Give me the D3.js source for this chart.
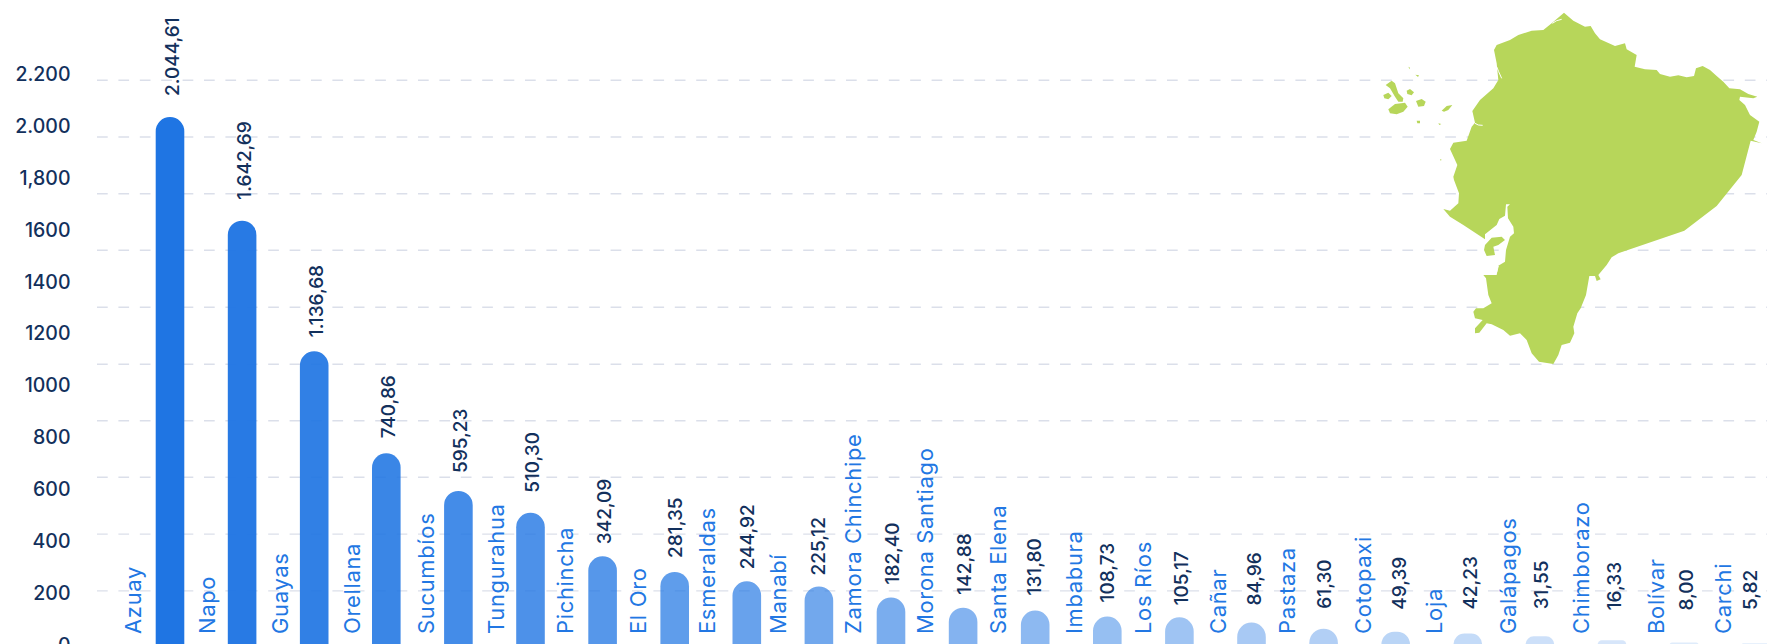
<!DOCTYPE html>
<html><head><meta charset="utf-8">
<script src="https://cdn.jsdelivr.net/npm/d3@7"></script>
<style>html,body{margin:0;padding:0;background:#fff;overflow:hidden}svg{display:block}</style>
</head><body><svg id="c" width="1767" height="644"></svg>
<script>
const categories=["Azuay","Napo","Guayas","Orellana","Sucumbíos","Tungurahua","Pichincha","El Oro","Esmeraldas","Manabí","Zamora Chinchipe","Morona Santiago","Santa Elena","Imbabura","Los Ríos","Cañar","Pastaza","Cotopaxi","Loja","Galápagos","Chimborazo","Bolívar","Carchi"];
const values=[2044.61,1642.69,1136.68,740.86,595.23,510.30,342.09,281.35,244.92,225.12,182.40,142.88,131.80,108.73,105.17,84.96,61.30,49.39,42.23,31.55,16.33,8.00,5.82];
const valueLabels=["2.044,61","1.642,69","1.136,68","740,86","595,23","510,30","342,09","281,35","244,92","225,12","182,40","142,88","131,80","108,73","105,17","84,96","61,30","49,39","42,23","31,55","16,33","8,00","5,82"];
const tickValues=[0,200,400,600,800,1000,1200,1400,1600,1800,2000,2200];
const tickLabels=["0","200","400","600","800","1000","1200","1400","1600","1,800","2.000","2.200"];
const gridValues=[208,428,648,867,1086,1307,1528,1747,1967,2187];
// hand-placed label offsets of the original layout
const valueGap=[21,21,14,15,18,20,12,14,12,11,13,13,15,14,12,17,20,22,24,27,30,32,33];
const catShift=[-2,0,1,1,3,0,-3,-2,-4.5,-5.5,-3.5,-3.5,-2,2,-1,1,-2,2,1,3.5,4,7,2];
const valShift=[0,0,0,0,0,-1,-1,-2,-2,-3,-1,-1,-3,-2,0,0,-2,1,0,-1,0,0,-8];
const mapMain=[[672,38],[700,62],[735,80],[752,78],[765,100],[780,118],[825,138],[855,130],[860,148],[890,165],[884,200],[915,208],[950,210],[960,222],[990,230],[1015,226],[1040,232],[1062,228],[1068,205],[1088,198],[1110,210],[1130,228],[1150,245],[1168,265],[1200,268],[1225,282],[1252,290],[1240,295],[1200,290],[1198,300],[1215,315],[1230,345],[1258,365],[1250,395],[1240,420],[1265,430],[1232,422],[1205,525],[1130,618],[1033,692],[835,760],[815,772],[800,795],[775,825],[782,838],[770,843],[765,828],[748,828],[738,885],[722,925],[712,940],[700,980],[703,1000],[690,1028],[665,1035],[655,1065],[640,1092],[597,1085],[575,1060],[560,1020],[540,1000],[510,1007],[490,990],[455,973],[440,970],[418,998],[405,1000],[405,985],[428,960],[405,955],[400,935],[408,925],[430,925],[455,910],[445,885],[438,835],[430,825],[470,825],[475,797],[495,785],[498,750],[510,710],[522,700],[520,680],[504,655],[502,620],[510,613],[498,613],[495,647],[478,657],[470,675],[435,703],[435,718],[370,675],[330,650],[310,627],[330,632],[355,610],[357,580],[342,540],[340,530],[352,495],[330,447],[340,428],[380,422],[395,380],[405,368],[397,333],[420,300],[460,265],[475,240],[470,190],[462,150],[470,135],[510,120],[535,105],[575,92],[610,90],[635,70]];
const mapIslands=[
[[435,735],[455,713],[485,710],[495,720],[475,735],[460,740],[465,765],[440,768],[432,750]],
[[137,255],[155,242],[165,250],[175,280],[190,295],[188,305],[175,305],[165,290],[150,265]],
[[145,328],[165,312],[195,308],[203,320],[190,335],[170,343],[150,340]],
[[130,285],[145,278],[155,288],[145,298],[133,295]],
[[200,272],[210,267],[222,277],[215,286],[202,282]],
[[228,303],[245,297],[257,305],[252,318],[235,320]],
[[305,332],[320,318],[337,315],[325,330],[312,335]],
[[230,362],[240,362],[240,370],[232,370]],
[[205,200],[210,203],[209,208]],
[[226,224],[237,226],[234,231]],
[[295,370],[304,372],[298,375]],
[[300,477],[305,479],[302,482]]];
const mapChannels=[
[[495,660],[502,685],[485,695]],
[[485,680],[500,690],[510,708]],
[[435,817],[470,817],[475,798]],
[[470,200],[476,215],[485,235]],
[[405,370],[415,375],[428,376]],
[[637,70],[650,62],[665,58]]];

const W=1767,H=644;
const svg=d3.select("#c");
const font="Inter, sans-serif";
const y=d3.scaleLinear().domain([0,2200]).range([644.5,644.5-0.258*2200]);
const yTicks=d3.scaleLinear().domain([0,2200]).range([644.4,73.3]);
const x=d3.scalePoint().domain(categories).range([170,170+72.1*22]);
const op=d3.scaleLinear().domain([0,categories.length-1]).range([1,0.1]);

// grid
svg.append("g").selectAll("line").data(gridValues).join("line")
 .attr("x1",97).attr("x2",W).attr("y1",d=>y(d)).attr("y2",d=>y(d))
 .attr("stroke","#dbdfea").attr("stroke-width",1.4).attr("stroke-dasharray","10.7 10.7");

// map
const mapX=d3.scaleLinear().domain([0,3]).range([1340,1341]);
const mapY=d3.scaleLinear().domain([0,3]).range([0,1]);
const line=d3.line(d=>mapX(d[0]),d=>mapY(d[1])).curve(d3.curveLinearClosed);
const openLine=d3.line(d=>mapX(d[0]),d=>mapY(d[1]));
const gm=svg.append("g").attr("fill","#b7d65a");
gm.selectAll("path").data([mapMain,...mapIslands]).join("path").attr("d",line);
svg.append("g").attr("fill","none").attr("stroke","#fff").attr("stroke-width",1)
 .selectAll("path").data(mapChannels).join("path").attr("d",openLine);

// y axis
const ax=d3.axisLeft(yTicks).tickValues(tickValues).tickFormat((d,i)=>tickLabels[i]).tickSize(0).tickPadding(0);
const gA=svg.append("g").attr("transform","translate(70.5,0)").call(ax);
gA.select(".domain").remove();
gA.selectAll("text").attr("font-family",font).attr("font-size",19.5).attr("font-weight",500).attr("fill","#12305c").attr("dy","0.36em");

// bars: rounded top, corner radius limited by the bar's height
const bw=28.6;
const barPath=(d,i)=>{
  const cx=x(categories[i]),t=y(d),b=H+20,r=Math.min(bw/2,Math.max(1.5,y(0)-t));
  return `M${cx-bw/2},${b}V${t+r}A${r},${r} 0 0 1 ${cx-bw/2+r},${t}H${cx+bw/2-r}A${r},${r} 0 0 1 ${cx+bw/2},${t+r}V${b}Z`;
};
svg.append("g").selectAll("path").data(values).join("path")
 .attr("d",barPath).attr("fill","#1f75e3").attr("fill-opacity",(d,i)=>op(i));

// category labels
svg.append("g").selectAll("text").data(categories).join("text")
 .attr("transform",(d,i)=>`translate(${x(d)-27+catShift[i]},634) rotate(-90)`)
 .attr("font-family",font).attr("font-size",22).attr("letter-spacing",0.65).attr("fill","#2277e3").text(d=>d);

// value labels
svg.append("g").selectAll("text").data(valueLabels).join("text")
 .attr("transform",(d,i)=>`translate(${x(categories[i])+9+valShift[i]},${y(values[i])-valueGap[i]}) rotate(-90)`)
 .attr("font-family",font).attr("font-size",19).attr("font-weight",500).attr("fill","#12305c").text(d=>d);
</script></body></html>
